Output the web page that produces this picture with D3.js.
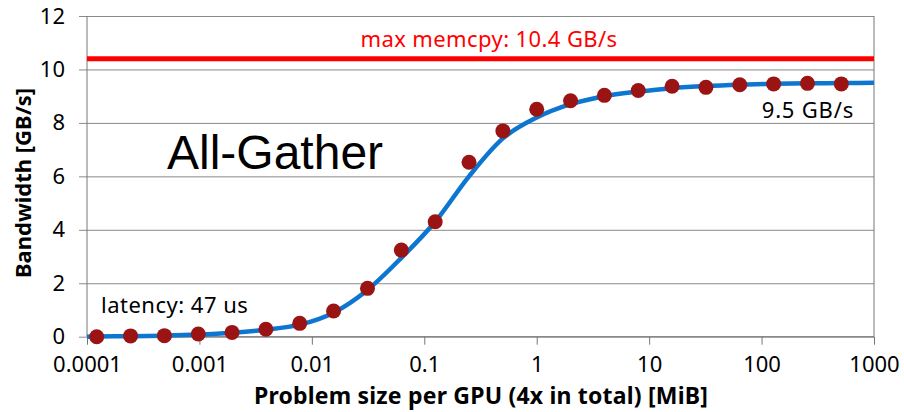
<!DOCTYPE html>
<html>
<head>
<meta charset="utf-8">
<script src="https://cdn.jsdelivr.net/npm/d3@7"></script>
<style>
  body { margin: 0; background: #fff; }
  text { font-family: "Noto Sans", sans-serif; }
</style>
</head>
<body>
<div id="chart"></div>
<script>
// problem size per GPU [MiB] (powers of two from 2^-13 to 2^9)
const sizes = [0.000122, 0.000244, 0.000488, 0.000977, 0.00195, 0.0039, 0.0078, 0.0156,
  0.03125, 0.0625, 0.125, 0.25, 0.5, 1, 2, 4, 8, 16, 32, 64, 128, 256, 512];
// measured bandwidth [GB/s]
const measured = [0.0, 0.03, 0.04, 0.1, 0.16, 0.28, 0.5, 0.96, 1.81, 3.24, 4.3, 6.53, 7.7,
  8.51, 8.83, 9.03, 9.21, 9.37, 9.33, 9.43, 9.46, 9.48, 9.46];
// fitted model curve
const modelSizes = [0.0001, 0.000122, 0.000244, 0.000488, 0.000977, 0.00195, 0.0039, 0.0078,
  0.0156, 0.03125, 0.0625, 0.125, 0.25, 0.5, 1, 2, 4, 8, 16, 32, 64, 128, 256, 512, 1000];
const modelBW = [0, 0.01, 0.02, 0.04, 0.08, 0.15, 0.26, 0.45, 0.9, 1.75, 2.95, 4.3, 6.0,
  7.42, 8.2, 8.7, 9.0, 9.17, 9.3, 9.38, 9.43, 9.46, 9.48, 9.49, 9.5];
const memcpyPeak = 10.4;
const xTicks = [0.0001, 0.001, 0.01, 0.1, 1, 10, 100, 1000];
const xTickLabels = ["0.0001", "0.001", "0.01", "0.1", "1", "10", "100", "1000"];
const yTicks = [0, 2, 4, 6, 8, 10, 12];

const width = 904, height = 412;
const margin = { top: 16, right: 30, bottom: 75.3, left: 87 };
const innerW = width - margin.left - margin.right;
const innerH = height - margin.top - margin.bottom;

const svg = d3.select("#chart").append("svg")
  .attr("width", width).attr("height", height);
const g = svg.append("g").attr("transform", `translate(${margin.left},${margin.top})`);

const x = d3.scaleLog().domain([1e-4, 1e3]).range([0, innerW]);
const y = d3.scaleLinear().domain([0, 12]).range([innerH, 0]);

// horizontal grid + y labels
const yAxis = g.append("g")
  .call(d3.axisLeft(y).tickValues(yTicks).tickSize(-innerW).tickPadding(22));
yAxis.select(".domain").remove();
yAxis.selectAll(".tick line").attr("x1", -8).attr("stroke", "#8a8a8a");
yAxis.selectAll(".tick text").attr("font-size", 22).attr("fill", "#000")
  .style("font-family", "Noto Sans");

// x axis
const xAxis = g.append("g").attr("transform", `translate(0,${innerH})`)
  .call(d3.axisBottom(x).tickValues(xTicks).tickSize(8).tickPadding(12)
    .tickFormat((d, i) => xTickLabels[i]));
xAxis.select(".domain").remove();
xAxis.selectAll(".tick line").attr("stroke", "#777");
xAxis.selectAll(".tick text").attr("font-size", 22).attr("fill", "#000")
  .style("font-family", "Noto Sans");

// frame
g.append("line").attr("x1", 0).attr("x2", 0).attr("y1", 0).attr("y2", innerH)
  .attr("stroke", "#777");
g.append("line").attr("x1", innerW).attr("x2", innerW).attr("y1", 0).attr("y2", innerH)
  .attr("stroke", "#777");
g.append("line").attr("x1", 0).attr("x2", innerW).attr("y1", innerH).attr("y2", innerH)
  .attr("stroke", "#777");

// memcpy peak
g.append("line")
  .attr("x1", 0).attr("x2", innerW)
  .attr("y1", y(memcpyPeak)).attr("y2", y(memcpyPeak))
  .attr("stroke", "#ff0000").attr("stroke-width", 5);

// model curve
const line = d3.line()
  .x((d, i) => x(modelSizes[i]))
  .y(d => y(d))
  .curve(d3.curveMonotoneX);
g.append("path").datum(modelBW)
  .attr("d", line)
  .attr("fill", "none")
  .attr("stroke", "#0d76d0")
  .attr("stroke-width", 4.5);

// measurements
g.selectAll("circle.pt").data(measured).join("circle")
  .attr("class", "pt")
  .attr("cx", (d, i) => x(sizes[i]))
  .attr("cy", d => y(d))
  .attr("r", 7.5)
  .attr("fill", "#9b1414");

// annotations
svg.append("text").attr("x", 489).attr("y", 47).attr("text-anchor", "middle")
  .attr("font-size", 22).attr("letter-spacing", 0.4).attr("fill", "#ff0000")
  .text("max memcpy: 10.4 GB/s");
svg.append("text").attr("x", 854).attr("y", 118).attr("text-anchor", "end")
  .attr("font-size", 22).attr("letter-spacing", 0.8).attr("fill", "#000")
  .text("9.5 GB/s");
svg.append("text").attr("x", 101).attr("y", 313).attr("font-size", 22)
  .attr("letter-spacing", 0.5).attr("fill", "#000")
  .text("latency: 47 us");
svg.append("text").attr("x", 167).attr("y", 169)
  .style("font-family", "'Liberation Sans', Arial, sans-serif")
  .attr("font-size", 48).attr("fill", "#000")
  .text("All-Gather");

// axis titles
svg.append("text").attr("x", 481).attr("y", 404).attr("text-anchor", "middle")
  .attr("font-size", 23).attr("font-weight", "bold").attr("letter-spacing", 0.2)
  .attr("fill", "#000")
  .text("Problem size per GPU (4x in total) [MiB]");
svg.append("text")
  .attr("transform", "translate(31,183) rotate(-90)")
  .attr("text-anchor", "middle")
  .attr("font-size", 22).attr("font-weight", "bold").attr("fill", "#000")
  .text("Bandwidth [GB/s]");
</script>
</body>
</html>
